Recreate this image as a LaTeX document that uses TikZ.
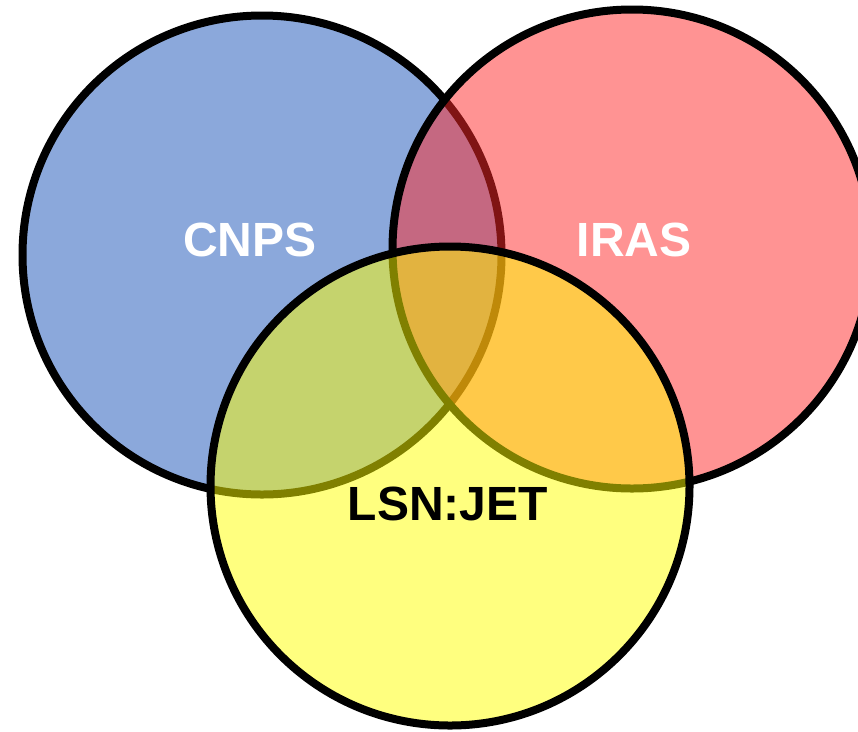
\documentclass[tikz,border=0pt]{standalone}
\usepackage{fontspec}
\setmainfont{Liberation Sans}
\definecolor{setblue}{RGB}{24,82,184}
\definecolor{setred}{RGB}{255,40,40}
\definecolor{setyellow}{RGB}{255,255,0}

\begin{document}
\begin{tikzpicture}[
    x=1pt, y=-1pt,
    set/.style={circle, draw=black, line width=8pt, minimum size=479pt, inner sep=0pt, fill opacity=0.5},
    setname/.style={font=\fontsize{48}{56}\selectfont\bfseries}
]

    \useasboundingbox (0, 0) rectangle (858, 731);

    % --- The three sets ---
    \node[set, fill=setblue] (CNPS) at (262, 255) {};
    \node[set, fill=setred] (IRAS) at (632, 249) {};
    \node[set, fill=setyellow] (LSN) at (450, 486) {};

    % --- Set names ---
    \node[setname, text=white] (CNPSname) at (250, 240) {CNPS};
    \node[setname, text=white] (IRASname) at (634, 240) {IRAS};
    \node[setname, text=black] (LSNname) at (448, 504) {LSN:JET};

\end{tikzpicture}
\end{document}
